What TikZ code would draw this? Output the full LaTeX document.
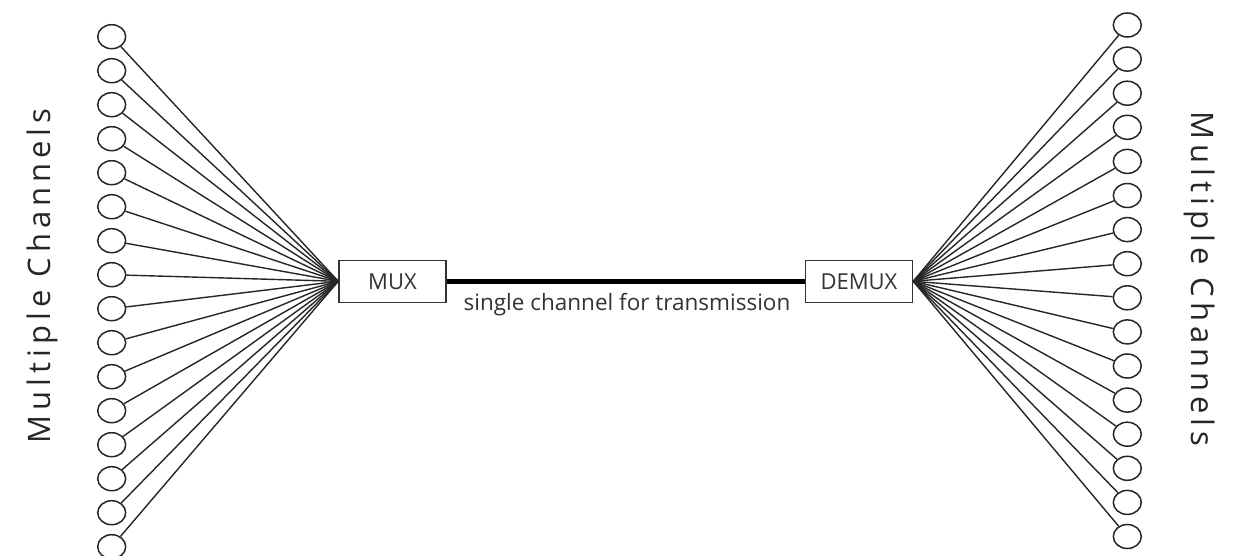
\documentclass[tikz,border=0pt]{standalone}
\usepackage{fontspec}
\setmainfont{Open Sans}
\newfontfamily\spacedfont[LetterSpace=16]{Open Sans}
\usetikzlibrary{shapes.geometric}
\begin{document}
\begin{tikzpicture}[x=1pt,y=-1pt,
  chan/.style={draw=black!85, ellipse, line width=1.5pt, minimum width=28pt, minimum height=24pt, inner sep=0pt},
  box/.style={draw=black!80, line width=1.5pt, minimum width=107pt, minimum height=42pt, inner sep=0pt, font=\fontsize{22}{26}\selectfont, text=black!80},
  fan/.style={draw=black!85, line width=1.4pt},
  side/.style={font=\spacedfont\fontsize{31}{36}\selectfont, text=black!85, inner sep=0pt}
]
\useasboundingbox (0,0) rectangle (1242,556);
\fill[white] (0,0) rectangle (1242,556);
\node[box] (mux) at (392.5,281.3) {MUX};
\node[box] (demux) at (859,281.3) {DEMUX};
\draw[line width=5pt, black] (mux.east) -- (demux.west);
\node[anchor=base, font=\fontsize{22.5}{26}\selectfont, text=black!80, inner sep=0pt] (lbl) at (627,310) {single channel for transmission};
\foreach \i in {0,...,15} {
  \node[chan] (l\i) at (111.7, 36.7+34*\i) {};
  \draw[fan] (l\i) -- (mux.west);
  \node[chan] (r\i) at (1127.3, 25+34.1*\i) {};
  \draw[fan] (r\i) -- (demux.east);
}
\node[side, rotate=90, anchor=base] (lt) at (50,276) {Multiple Channels};
\node[side, rotate=-90, anchor=base] (rt) at (1191,279) {Multiple Channels};
\end{tikzpicture}
\end{document}
